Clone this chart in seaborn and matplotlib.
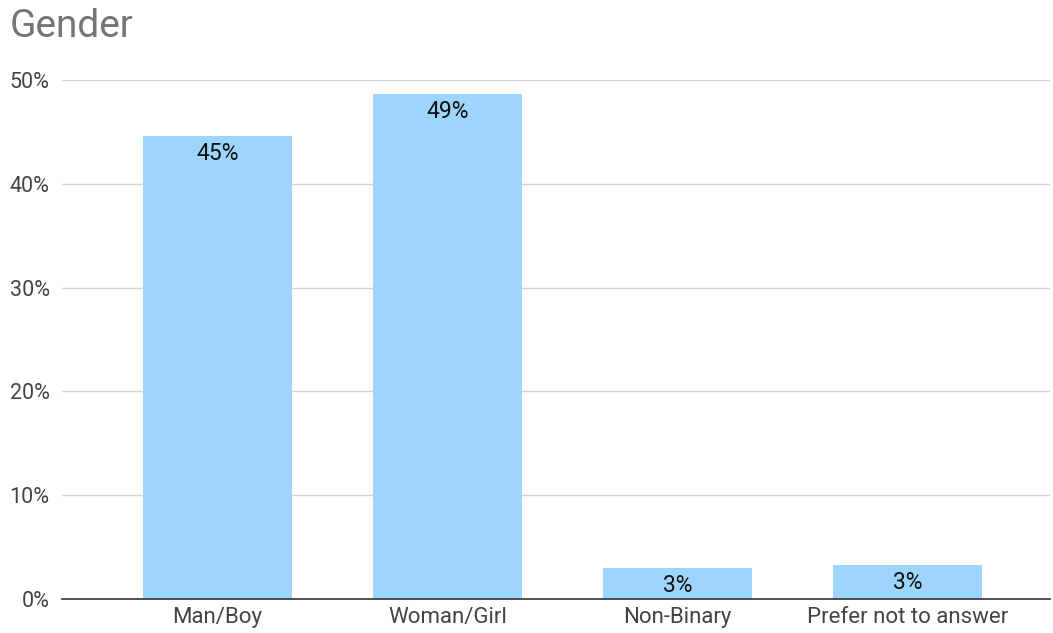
import matplotlib
matplotlib.use("Agg")
import matplotlib.pyplot as plt
import seaborn as sns
import pandas as pd

categories = ["Man/Boy", "Woman/Girl", "Non-Binary", "Prefer not to answer"]
values = [0.446, 0.487, 0.030, 0.033]
labels = ["45%", "49%", "3%", "3%"]
yticks = [0, 0.1, 0.2, 0.3, 0.4, 0.5]
ytick_labels = ["0%", "10%", "20%", "30%", "40%", "50%"]

sns.set_theme(style="white")
plt.rcParams["font.family"] = ["Roboto", "DejaVu Sans"]

df = pd.DataFrame({"cat": categories, "val": values})

fig = plt.figure(figsize=(10.53, 6.33), dpi=100)
ax = fig.add_axes([0.0589, 0.0537, 0.9381, 0.8199])

sns.barplot(data=df, x="cat", y="val", color="#9dd5fc", width=0.65,
            saturation=1, linewidth=0, ax=ax, zorder=3)

ax.set_ylim(0, 0.5)
ax.set_xlim(-0.676, 3.62)
ax.set_yticks(yticks)
ax.set_yticklabels(ytick_labels, fontsize=15.5, color="#444444")
ax.tick_params(axis="x", labelsize=16, colors="#444444", length=0, pad=6)
ax.tick_params(axis="y", length=0, pad=9)
for lab in ax.get_xticklabels():
    lab.set_color("#444444")
ax.set_xlabel("")
ax.set_ylabel("")
ax.yaxis.grid(True, color="#d6d6d6", linewidth=1.0, zorder=0)
for s in ["top", "right", "left"]:
    ax.spines[s].set_visible(False)
ax.spines["bottom"].set_color("#333333")
ax.spines["bottom"].set_linewidth(1.2)
ax.spines["bottom"].set_zorder(5)

for i, (v, t) in enumerate(zip(values, labels)):
    ax.annotate(t, xy=(i, v), xytext=(0, -4.5), textcoords="offset points",
                ha="center", va="top", fontsize=16.5, color="#111111", zorder=6)

fig.text(0.009, 0.958, "Gender", fontsize=28, color="#757575", ha="left", va="center")

fig.savefig("out.png", dpi=100)
